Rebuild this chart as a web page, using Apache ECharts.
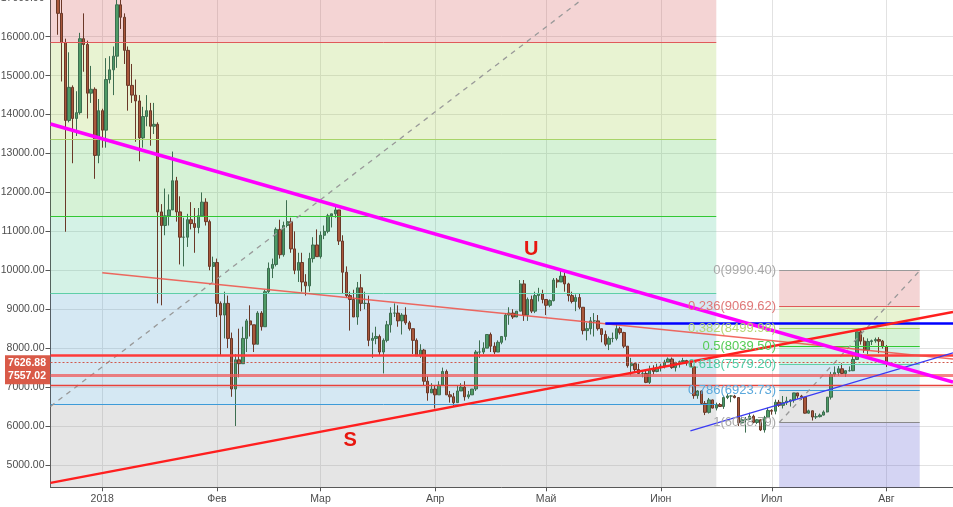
<!DOCTYPE html>
<html><head><meta charset="utf-8">
<script src="https://cdn.jsdelivr.net/npm/echarts@6/dist/echarts.min.js"></script>
<style>html,body{margin:0;padding:0;background:#fff}#c{width:953px;height:507px}</style>
</head><body><div id="c"></div>
<script>
// ---------- DATA ----------
const axisStart = '2017-12-18', axisEnd = '2018-08-19';
const yMin = 4425, yMax = 17000;
const yTickValues = [5000,6000,7000,8000,9000,10000,11000,12000,13000,14000,15000,16000,17000];
const monthStarts = ['2018-01-01','2018-02-01','2018-03-01','2018-04-01','2018-05-01','2018-06-01','2018-07-01','2018-08-01'];
const monthLabels = ['2018','Фев','Мар','Апр','Май','Июн','Июл','Авг'];

// [date, open, high, low, close]
const candles = [
['2017-12-20',17700,17900,16050,16600],['2017-12-21',16600,17300,14850,15850],['2017-12-22',15850,15950,10990,13850],
['2017-12-23',13850,15600,13800,14700],['2017-12-24',14700,14750,12750,13900],['2017-12-25',13900,14600,13450,14050],
['2017-12-26',14050,16100,14000,15950],['2017-12-27',15950,16600,15100,15800],['2017-12-28',15800,15900,13900,14550],
['2017-12-29',14550,15250,14300,14650],['2017-12-30',14650,14700,12350,12950],['2017-12-31',12950,14400,12750,14100],
['2018-01-01',14100,14150,13150,13600],['2018-01-02',13600,15450,13150,14900],['2018-01-03',14900,15500,14800,15150],
['2018-01-04',15150,15750,14500,15500],['2018-01-05',15500,17100,15200,16820],['2018-01-06',16820,17150,16200,16500],
['2018-01-07',16500,16600,15300,15650],['2018-01-08',15650,15750,14100,14750],['2018-01-09',14750,15300,14300,14500],
['2018-01-10',14500,14900,13300,14350],['2018-01-11',14350,14500,12800,13400],['2018-01-12',13400,14200,13150,13950],
['2018-01-13',13950,14500,13700,14100],['2018-01-14',14100,14300,13200,13700],['2018-01-15',13700,14300,13500,13750],
['2018-01-16',13750,13800,9150,11500],['2018-01-17',11500,11700,9100,11150],['2018-01-18',11150,12100,10900,11400],
['2018-01-19',11400,11950,11150,11550],['2018-01-20',11550,13050,11550,12300],['2018-01-21',12300,12400,11250,11500],
['2018-01-22',11500,11900,10150,10850],['2018-01-23',10850,11350,10100,10850],['2018-01-24',10850,11450,10600,11300],
['2018-01-25',11300,11750,11050,11200],['2018-01-26',11200,11600,10450,11100],['2018-01-27',11100,11600,10950,11400],
['2018-01-28',11400,12000,11400,11750],['2018-01-29',11750,11850,11150,11250],['2018-01-30',11250,11300,10000,10100],
['2018-01-31',10100,10350,9700,10200],
['2018-02-01',10200,10300,8800,9150],['2018-02-02',9150,9200,7800,8850],['2018-02-03',8850,9450,8250,9150],
['2018-02-04',9150,9350,8000,8250],['2018-02-05',8250,8400,6750,6950],['2018-02-06',6950,7850,6000,7700],
['2018-02-07',7700,8500,7250,7600],['2018-02-08',7600,8550,7600,8250],['2018-02-09',8250,8750,7900,8700],
['2018-02-10',8700,9100,8300,8600],['2018-02-11',8600,8600,7900,8100],['2018-02-12',8100,8950,8100,8900],
['2018-02-13',8900,8950,8450,8550],['2018-02-14',8550,9500,8550,9450],['2018-02-15',9450,10200,9400,10050],
['2018-02-16',10050,10300,9800,10150],['2018-02-17',10150,11100,10100,11050],['2018-02-18',11050,11300,10300,10400],
['2018-02-19',10400,11250,10350,11150],['2018-02-20',11150,11800,11100,11250],['2018-02-21',11250,11350,10450,10550],
['2018-02-22',10550,11000,9900,10000],['2018-02-23',10000,10450,9700,10200],['2018-02-24',10200,10450,9450,9700],
['2018-02-25',9700,9900,9350,9600],['2018-02-26',9600,10450,9450,10300],['2018-02-27',10300,10850,10200,10650],
['2018-02-28',10650,11050,10350,10350],
['2018-03-01',10350,11000,10300,10900],['2018-03-02',10900,11150,10800,11000],['2018-03-03',11000,11450,10950,11400],
['2018-03-04',11400,11450,11100,11450],['2018-03-05',11450,11680,11350,11550],['2018-03-06',11550,11550,10650,10750],
['2018-03-07',10750,10900,9400,9950],['2018-03-08',9950,10100,9300,9350],['2018-03-09',9350,9450,8450,9250],
['2018-03-10',9250,9500,8800,8800],['2018-03-11',8800,9700,8600,9550],['2018-03-12',9550,9900,8950,9150],
['2018-03-13',9150,9450,9000,9150],['2018-03-14',9150,9350,8050,8200],['2018-03-15',8200,8400,7750,8250],
['2018-03-16',8250,8550,8100,8300],['2018-03-17',8300,8350,7800,7900],['2018-03-18',7900,8250,7350,8200],
['2018-03-19',8200,8700,8150,8600],['2018-03-20',8600,9050,8400,8900],['2018-03-21',8900,9150,8800,8900],
['2018-03-22',8900,9100,8550,8700],['2018-03-23',8700,8900,8350,8850],['2018-03-24',8850,9050,8600,8650],
['2018-03-25',8650,8700,8450,8500],['2018-03-26',8500,8500,7850,8200],['2018-03-27',8200,8250,7800,7800],
['2018-03-28',7800,8100,7750,7950],['2018-03-29',7950,7980,7050,7150],['2018-03-30',7150,7280,6650,6850],
['2018-03-31',6850,7100,6850,6950],
['2018-04-01',6950,7050,6450,6800],['2018-04-02',6800,7150,6800,7050],['2018-04-03',7050,7500,7050,7400],
['2018-04-04',7400,7450,6800,6800],['2018-04-05',6800,6900,6600,6750],['2018-04-06',6750,6850,6500,6600],
['2018-04-07',6600,7050,6600,6900],['2018-04-08',6900,7100,6900,7000],['2018-04-09',7000,7150,6650,6750],
['2018-04-10',6750,6900,6700,6800],['2018-04-11',6800,6950,6800,6950],['2018-04-12',6950,7950,6900,7900],
['2018-04-13',7900,8200,7750,7900],['2018-04-14',7900,8150,7850,8000],['2018-04-15',8000,8350,8000,8350],
['2018-04-16',8350,8400,7900,8050],['2018-04-17',8050,8150,7850,7900],['2018-04-18',7900,8200,7900,8150],
['2018-04-19',8150,8300,8100,8300],['2018-04-20',8300,8900,8200,8850],['2018-04-21',8850,9050,8600,8900],
['2018-04-22',8900,9000,8750,8800],['2018-04-23',8800,8950,8800,8950],['2018-04-24',8950,9750,8950,9650],
['2018-04-25',9650,9750,8700,8850],['2018-04-26',8850,9300,8700,9250],['2018-04-27',9250,9350,8900,8950],
['2018-04-28',8950,9450,8900,9350],['2018-04-29',9350,9550,9200,9400],['2018-04-30',9400,9500,9150,9250],
['2018-05-01',9250,9250,8850,9100],['2018-05-02',9100,9250,9050,9220],['2018-05-03',9220,9800,9200,9750],
['2018-05-04',9750,9800,9550,9700],['2018-05-05',9700,9990.4,9700,9850],['2018-05-06',9850,9950,9450,9650],
['2018-05-07',9650,9680,9200,9350],['2018-05-08',9350,9450,9150,9200],['2018-05-09',9200,9380,8950,9300],
['2018-05-10',9300,9400,9000,9050],['2018-05-11',9050,9050,8350,8450],['2018-05-12',8450,8650,8200,8500],
['2018-05-13',8500,8800,8350,8700],['2018-05-14',8700,8900,8300,8700],['2018-05-15',8700,8850,8450,8500],
['2018-05-16',8500,8500,8150,8350],['2018-05-17',8350,8450,8050,8100],['2018-05-18',8100,8300,7950,8250],
['2018-05-19',8250,8400,8150,8250],['2018-05-20',8250,8600,8200,8500],['2018-05-21',8500,8550,8350,8400],
['2018-05-22',8400,8420,8000,8050],['2018-05-23',8050,8050,7500,7550],['2018-05-24',7550,7750,7300,7600],
['2018-05-25',7600,7620,7380,7450],['2018-05-26',7450,7600,7350,7350],['2018-05-27',7350,7400,7250,7350],
['2018-05-28',7350,7420,7100,7120],['2018-05-29',7120,7550,7080,7450],['2018-05-30',7450,7560,7330,7400],
['2018-05-31',7400,7600,7380,7500],
['2018-06-01',7500,7600,7400,7540],['2018-06-02',7540,7700,7480,7640],['2018-06-03',7640,7760,7620,7720],
['2018-06-04',7720,7760,7470,7500],['2018-06-05',7500,7650,7400,7630],['2018-06-06',7630,7680,7500,7650],
['2018-06-07',7650,7750,7640,7680],['2018-06-08',7680,7700,7550,7620],['2018-06-09',7620,7690,7520,7520],
['2018-06-10',7520,7520,6700,6780],['2018-06-11',6780,6920,6700,6900],['2018-06-12',6900,6910,6540,6580],
['2018-06-13',6580,6640,6280,6350],['2018-06-14',6350,6720,6320,6670],['2018-06-15',6670,6680,6450,6460],
['2018-06-16',6460,6600,6400,6550],['2018-06-17',6550,6590,6490,6500],['2018-06-18',6500,6780,6440,6730],
['2018-06-19',6730,6820,6690,6770],['2018-06-20',6770,6790,6610,6770],['2018-06-21',6770,6800,6710,6730],
['2018-06-22',6730,6740,6000,6080],['2018-06-23',6080,6240,6070,6160],['2018-06-24',6160,6230,5830,6170],
['2018-06-25',6170,6340,6150,6250],['2018-06-26',6250,6290,6070,6090],['2018-06-27',6090,6180,6050,6160],
['2018-06-28',6160,6170,5870,5900],['2018-06-29',5900,6260,5830,6220],['2018-06-30',6220,6470,6210,6400],
['2018-07-01',6400,6430,6290,6380],['2018-07-02',6380,6680,6300,6610],['2018-07-03',6610,6670,6490,6530],
['2018-07-04',6530,6770,6450,6600],['2018-07-05',6600,6750,6540,6640],['2018-07-06',6640,6680,6500,6670],
['2018-07-07',6670,6840,6600,6850],['2018-07-08',6850,6850,6700,6770],['2018-07-09',6770,6800,6670,6740],
['2018-07-10',6740,6740,6320,6330],['2018-07-11',6330,6420,6320,6390],['2018-07-12',6390,6400,6140,6230],
['2018-07-13',6230,6330,6180,6240],['2018-07-14',6240,6320,6220,6280],['2018-07-15',6280,6400,6270,6360],
['2018-07-16',6360,6740,6350,6740],['2018-07-17',6740,7390,6680,7320],['2018-07-18',7320,7530,7270,7370],
['2018-07-19',7370,7540,7290,7470],['2018-07-20',7470,7610,7330,7350],['2018-07-21',7350,7410,7260,7420],
['2018-07-22',7420,7530,7400,7420],['2018-07-23',7420,7800,7410,7710],['2018-07-24',7710,8420,7700,8420],
['2018-07-25',8420,8490,8090,8180],['2018-07-26',8180,8280,7880,7950],['2018-07-27',7950,8250,7840,8170],
['2018-07-28',8170,8220,8080,8190],['2018-07-29',8190,8270,8140,8220],['2018-07-30',8220,8280,7870,8180],
['2018-07-31',8180,8210,7990,8040],['2018-08-01',8040,8080,7515,7626.88]
];

// large Fibonacci retracement (left), levels 0.236 .. 0.786
const leftFibTop = 19826;
const leftFibLevels = [15846, 13372, 11376, 9409, 6558];
const leftFibFrom = '2017-12-18', leftFibTo = '2018-06-16';

// small Fibonacci retracement (right)
const rightFibRatios = ['0','0.236','0.382','0.5','0.618','0.786','1'];
const rightFibValues = [9990.40, 9069.62, 8499.98, 8039.50, 7579.20, 6923.73, 6088.79];
const rightFibFrom = '2018-07-03', rightFibTo = '2018-08-10';

// trend lines: [date, value] end points
const lineU = [['2017-12-18', 13757], ['2018-08-19', 7130]];
const lineS = [['2017-12-18', 4539], ['2018-08-19', 8928]];
const lineThinRed = [['2018-01-01', 9938], ['2018-08-19', 7720]];
const lineBlueH = [['2018-05-17', 8628], ['2018-08-19', 8628]];
const lineBlueThin = [['2018-06-09', 5876], ['2018-08-19', 7880]];
const lineFibTrendLeft = [['2017-12-18', 6503], ['2018-05-11', 16980]];
const hLevels = [7806, 7292, 7053];
const lastPrice = 7626.88, secondTag = 7557.02;
const textU = ['2018-04-27', 10547], textS = ['2018-03-09', 5640];

// ---------- CHART ----------
const dates = [];
for (let t = Date.UTC(2017,11,18); t <= Date.UTC(2018,7,19); t += 86400000) dates.push(new Date(t).toISOString().slice(0,10));
const cmap = new Map(candles.map(r => [r[0], r]));
const ohlc = dates.map(d => { const r = cmap.get(d); return r ? [r[1], r[4], r[3], r[2]] : '-'; });
const isMonth = (i, v) => monthStarts.indexOf(v) >= 0;

const FONT = '"Liberation Sans", Arial, sans-serif';
const bandColors = ['rgba(211,83,83,0.25)','rgba(163,207,75,0.25)','rgba(91,203,91,0.25)','rgba(83,203,155,0.25)','rgba(87,163,207,0.25)','rgba(151,151,151,0.25)','rgba(83,83,207,0.25)'];
const levelColors = ['#9a9a9a','#e05a5a','#a8d46a','#33c833','#5fcfa8','#3d9bd8','#8a8a8a'];
const labelColors = ['#a8a8a8','#e07878','#b5d672','#55cc55','#4fcca6','#5aa8dc','#a8a8a8'];

const areas = [];
const leftBounds = [leftFibTop].concat(leftFibLevels).concat([yMin]);
for (let i = 0; i < leftBounds.length - 1; i++) {
  areas.push([{xAxis: leftFibFrom, yAxis: leftBounds[i], itemStyle:{color: bandColors[i]}}, {xAxis: leftFibTo, yAxis: leftBounds[i+1]}]);
}
const rightBounds = rightFibValues.concat([yMin]);
for (let i = 0; i < rightBounds.length - 1; i++) {
  areas.push([{xAxis: rightFibFrom, yAxis: rightBounds[i], itemStyle:{color: bandColors[i]}}, {xAxis: rightFibTo, yAxis: rightBounds[i+1]}]);
}
const fibLines = [];
leftFibLevels.forEach((v, i) => fibLines.push([{coord:[leftFibFrom, v], lineStyle:{color: levelColors[i+1], width:1, type:'solid'}, label:{show:false}}, {coord:[leftFibTo, v]}]));
rightFibValues.forEach((v, i) => fibLines.push([
  {coord:[rightFibFrom, v], name: rightFibRatios[i] + '(' + v.toFixed(2) + ')',
   lineStyle:{color: levelColors[i], width:1, type:'solid'},
   label:{show:true, position:'start', distance:3, formatter:'{b}', color: labelColors[i], fontSize:13, fontFamily: FONT}},
  {coord:[rightFibTo, v]}]));
fibLines.push([{coord:[rightFibFrom, rightFibValues[6]], lineStyle:{color:'#999', width:1.3, type:[5,5]}, label:{show:false}}, {coord:[rightFibTo, rightFibValues[0]]}]);
fibLines.push([{coord: lineFibTrendLeft[0], lineStyle:{color:'#999', width:1.3, type:[5,5]}, label:{show:false}}, {coord: lineFibTrendLeft[1]}]);

const seg = (pts, style) => [{coord: pts[0], lineStyle: style, label:{show:false}}, {coord: pts[1]}];
const first = dates[0], last = dates[dates.length-1];
const trend = [
  seg([[first, hLevels[1]], [last, hLevels[1]]], {color:'rgba(240,90,90,0.75)', width:3, type:'solid'}),
  seg([[first, hLevels[2]], [last, hLevels[2]]], {color:'#e8423a', width:1.3, type:'solid'}),
  seg([[first, hLevels[0]], [last, hLevels[0]]], {color:'#ff3b3b', width:2.5, type:'solid'}),
  seg([[first, lastPrice], [last, lastPrice]], {color:'#d0574a', width:1, type:[2,2]}),
  seg(lineThinRed, {color:'rgba(240,80,70,0.85)', width:1.5, type:'solid'}),
  seg(lineBlueThin, {color:'#3a3af5', width:1.2, type:'solid'}),
  seg(lineBlueH, {color:'#0000ff', width:2.6, type:'solid'}),
  seg(lineS, {color:'#ff1f1f', width:2.5, type:'solid'}),
  seg(lineU, {color:'#ff00ff', width:3.5, type:'solid'})
];

const chart = echarts.init(document.getElementById('c'));
chart.setOption({
  animation: false,
  grid: {left: 50.5, right: 0, top: -2.2, bottom: 19.7, containLabel: false, outerBoundsMode: 'none'},
  xAxis: {
    type: 'category', data: dates, boundaryGap: false,
    axisLine: {show: true, lineStyle: {color: '#555'}},
    axisTick: {show: true, interval: isMonth, length: 4, lineStyle: {color: '#555'}},
    axisLabel: {interval: isMonth, color: '#4d4d4d', fontSize: 10.5, fontFamily: FONT, margin: 6,
      formatter: v => monthLabels[monthStarts.indexOf(v)] || ''},
    splitLine: {show: true, interval: isMonth, lineStyle: {color: '#e2e2e2', width: 1}}
  },
  yAxis: {
    type: 'value', min: yMin, max: yMax, position: 'left', scale: true,
    axisLine: {show: true, lineStyle: {color: '#555'}},
    axisTick: {show: true, length: 5, customValues: yTickValues, lineStyle: {color: '#555'}},
    axisLabel: {customValues: yTickValues, color: '#4d4d4d', fontSize: 10.5, fontFamily: FONT, margin: 6, formatter: v => v.toFixed(2)},
    splitLine: {show: true, lineStyle: {color: '#e2e2e2', width: 1}}
  },
  series: [
    {type: 'line', data: [], z: 1, silent: true,
     markArea: {silent: true, data: areas},
     markLine: {silent: true, symbol: ['none','none'], data: fibLines}},
    {type: 'candlestick', data: ohlc, z: 3, barWidth: 2.9, silent: true,
     itemStyle: {color: '#4e9a66', color0: '#a9573b', borderColor: '#3d6e50', borderColor0: '#6a3828', borderWidth: 1}},
    {type: 'line', data: [], z: 5, silent: true,
     markLine: {silent: true, symbol: ['none','none'], data: trend},
     markPoint: {silent: true, symbol: 'circle', symbolSize: 1, itemStyle: {color: 'transparent'},
       label: {show: true, position: 'inside', formatter: '{b}', color: '#e8170f', fontSize: 20, fontWeight: 'bold', fontFamily: FONT},
       data: [{name: 'U', coord: textU}, {name: 'S', coord: textS}]}}
  ]
});

const p1 = chart.convertToPixel({yAxisIndex: 0}, lastPrice);
let p2 = chart.convertToPixel({yAxisIndex: 0}, secondTag);
if (p2 < p1 + 13) p2 = p1 + 13;
chart.setOption({graphic: [
  {type: 'rect', left: 5, top: p1 - 7.5, shape: {width: 45, height: p2 - p1 + 16}, style: {fill: '#d95a48'}, z: 100},
  {type: 'text', x: 46, y: p1, style: {text: lastPrice.toFixed(2), fill: '#fff', fontSize: 10.5, fontWeight: 'bold', fontFamily: FONT, align: 'right', verticalAlign: 'middle'}, z: 101},
  {type: 'text', x: 46, y: p2, style: {text: secondTag.toFixed(2), fill: '#fff', fontSize: 10.5, fontWeight: 'bold', fontFamily: FONT, align: 'right', verticalAlign: 'middle'}, z: 101}
]});
</script></body></html>
